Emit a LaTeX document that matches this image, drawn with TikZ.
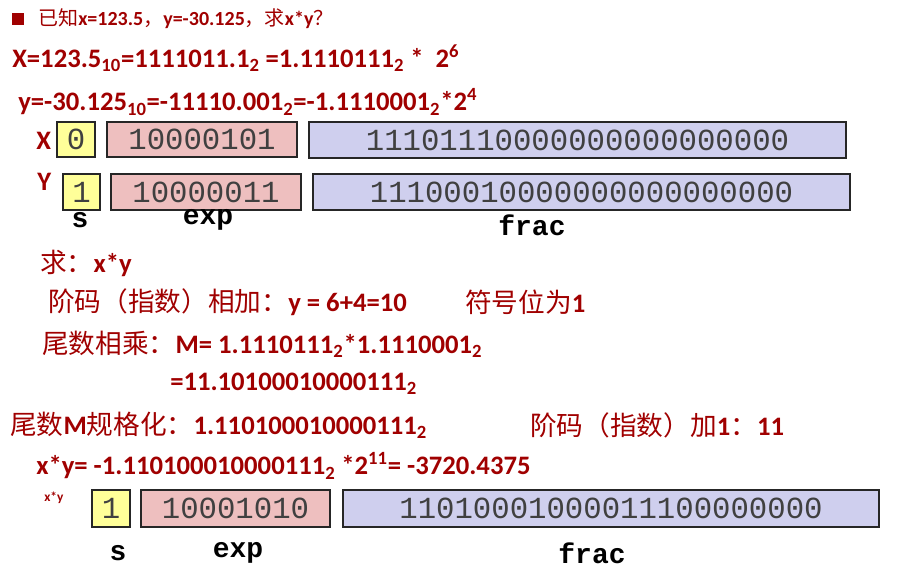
\documentclass[tikz,border=0pt]{standalone}
\usepackage{fontspec}
\setmainfont{Carlito}
\newfontfamily\cjk{Noto Sans CJK SC}
\newfontfamily\mono{Liberation Mono}
\definecolor{dred}{HTML}{A00000}
\definecolor{ybox}{HTML}{FFFF99}
\definecolor{pbox}{HTML}{EEBFBF}
\definecolor{lbox}{HTML}{CFCFEE}
\tikzset{
 txt/.style={anchor=west,text=dred,font=\fontsize{20}{22}\selectfont\bfseries,inner sep=0},
 fld/.style={draw=black!85,line width=1.3pt,font=\mono\fontsize{23}{25}\selectfont,text=black!75,inner sep=0},
 lab/.style={font=\mono\bfseries\fontsize{21}{23}\selectfont,inner sep=0},
}
\newcommand{\C}[1]{{\cjk\mdseries #1}}
\newcommand{\sub}[1]{\textsubscript{#1}}
\newcommand{\supr}[1]{\textsuperscript{#1}}
\begin{document}
\begin{tikzpicture}[x=0.75pt,y=-0.75pt]
\useasboundingbox (0,0) rectangle (900,571);
\fill[dred] (12,13) rectangle (24,25);
\node[txt,font=\fontsize{15}{18}\selectfont\bfseries] (l1) at (38,19) {\C{已知}x=123.5\C{，}y=-30.125\C{，求}x*y\C{？}};
\node[txt] (l2) at (12,58) {X=123.5\sub{10}=1111011.1\sub{2} =1.1110111\sub{2} *\ \ 2\supr{6}};
\node[txt] (l3) at (18,102) {y=-30.125\sub{10}=-11110.001\sub{2}=-1.1110001\sub{2}*2\supr{4}};
% X row
\node[txt] (xl) at (36,141) {X};
\node[fld,fill=ybox,minimum width=28pt,minimum height=26pt] (xs) at (76,139.5) {0};
\node[fld,fill=pbox,minimum width=142pt,minimum height=26pt] (xe) at (202,139.5) {10000101};
\node[fld,fill=lbox,minimum width=403pt,minimum height=27pt] (xf) at (577.5,140) {11101110000000000000000};
% Y row
\node[txt] (yl) at (37,182) {Y};
\node[fld,fill=ybox,minimum width=28pt,minimum height=27pt] (ys) at (81.5,192) {1};
\node[fld,fill=pbox,minimum width=142pt,minimum height=27pt] (ye) at (206,192) {10000011};
\node[fld,fill=lbox,minimum width=403pt,minimum height=27pt] (yf) at (581.5,192) {11100010000000000000000};
\node[lab] (s1) at (80,220) {s};
\node[lab] (e1) at (208,220) {exp};
\node[lab] (f1) at (532,225) {frac};
\node[txt] (q) at (40,263) {\C{求：}x*y};
\node[txt] (a1) at (48,302) {\C{阶码（指数）相加：}y = 6+4=10};
\node[txt] (a2) at (465,302) {\C{符号位为}1};
\node[txt] (b1) at (42,344) {\C{尾数相乘：}M= 1.1110111\sub{2}*1.1110001\sub{2}};
\node[txt] (b2) at (170,384) {=11.10100010000111\sub{2}};
\node[txt] (c1) at (10,425) {\C{尾数}M\C{规格化：}1.110100010000111\sub{2}};
\node[txt] (c2) at (530,425) {\C{阶码（指数）加}1\C{：}11};
\node[txt] (d1) at (36,466) {x*y= -1.110100010000111\sub{2} *2\supr{11}= -3720.4375};
\node[txt,font=\fontsize{10}{11}\selectfont\bfseries] (zl) at (44,498) {x*y};
\node[fld,fill=ybox,minimum width=28pt,minimum height=27.5pt] (zs) at (111,508.5) {1};
\node[fld,fill=pbox,minimum width=142pt,minimum height=27.5pt] (ze) at (235.5,508.5) {10001010};
\node[fld,fill=lbox,minimum width=402pt,minimum height=27.5pt] (zf) at (611,508.5) {11010001000011100000000};
\node[lab] (s2) at (118,553) {s};
\node[lab] (e2) at (238,553) {exp};
\node[lab] (f2) at (592,553) {frac};
\end{tikzpicture}
\end{document}
